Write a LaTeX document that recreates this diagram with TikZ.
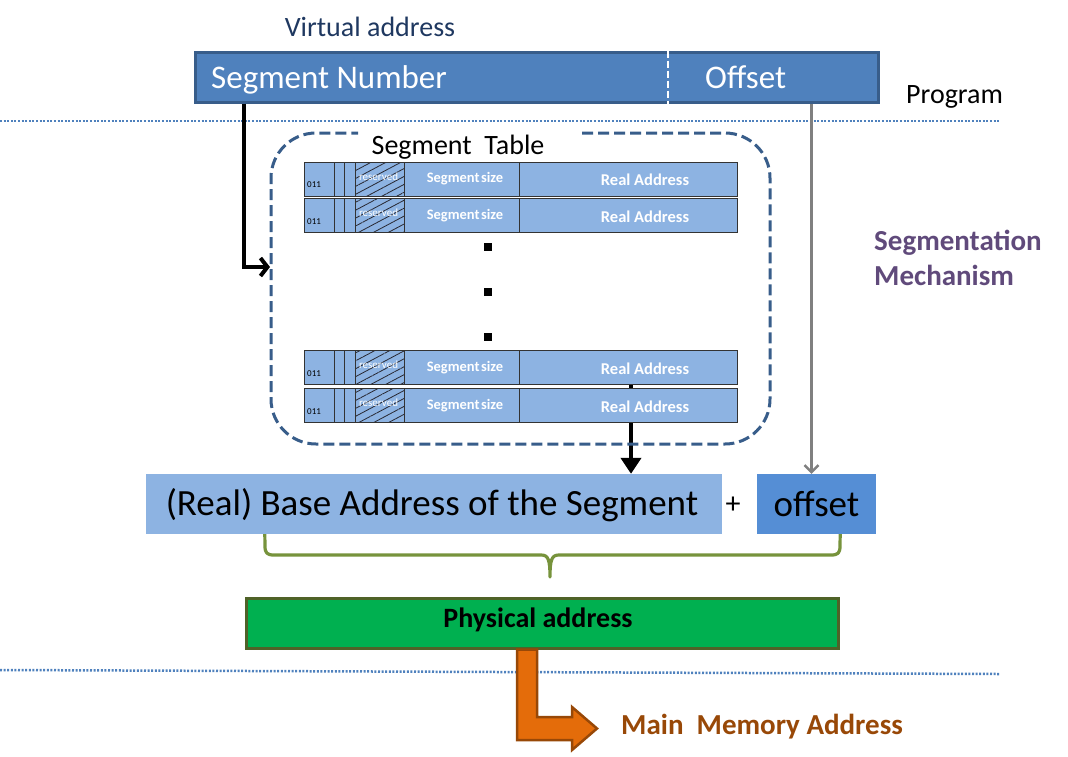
\documentclass[tikz,border=0pt]{standalone}
\usepackage{fontspec}
\setmainfont{Carlito}
\usetikzlibrary{arrows.meta,patterns.meta}
\pgfdeclarelayer{background}
\pgfsetlayers{background,main}
\definecolor{barblue}{RGB}{79,129,189}
\definecolor{barborder}{RGB}{56,93,138}
\definecolor{rowblue}{RGB}{141,179,226}
\definecolor{offblue}{RGB}{85,142,213}
\definecolor{navytxt}{RGB}{31,56,96}
\definecolor{purptxt}{RGB}{96,74,123}
\definecolor{browntxt}{RGB}{152,72,7}
\definecolor{bracegreen}{RGB}{119,147,60}
\definecolor{physgreen}{RGB}{0,176,80}
\definecolor{physborder}{RGB}{79,98,40}
\definecolor{arroworange}{RGB}{228,108,10}
\definecolor{dotblue}{RGB}{79,129,189}
\definecolor{hatchgray}{RGB}{40,40,50}
\newcommand\segtrow[2]{%
  \node[rowbox] (#1) at (520.5,{#2+17}) {};
  \pattern[pattern={Lines[angle=28,distance=7pt,line width=0.8pt]},pattern color=hatchgray] (355,#2) rectangle (404,{#2+34});
  \foreach \xx in {334,344,355,404,519} \draw[cellline] (\xx,#2) -- (\xx,{#2+34});
  \draw[cellline] (304,#2) rectangle (737,{#2+34});
  \node[idtxt] (#1-id) at (307,{#2+23}) {011};
  \node[restxt] (#1-res) at (378.5,{#2+14.5}) {reserved};
  \node[celltxt] (#1-size) at (465,{#2+17}) {Segment\hspace{0.1em}size};
  \node[celltxt,font=\fontsize{16.5}{18}\selectfont\bfseries] (#1-addr) at (645,{#2+18}) {Real Address};
}
\begin{document}
\begin{tikzpicture}[x=1pt,y=-1pt,
  rowbox/.style={fill=rowblue,draw=none,minimum width=433pt,minimum height=34pt,inner sep=0pt},
  cellline/.style={draw=black!80,line width=0.8pt},
  idtxt/.style={anchor=west,inner sep=0pt,font=\fontsize{9}{10}\selectfont},
  restxt/.style={text=white,inner sep=0pt,font=\fontsize{11}{12}\selectfont},
  celltxt/.style={text=white,inner sep=0pt,font=\fontsize{14.5}{16}\selectfont\bfseries},
  dotsq/.style={fill=black,minimum size=8pt,inner sep=0pt},
  sepline/.style={dotblue,line width=2.5pt,dash pattern=on 2pt off 1.6pt},
  bigtxt/.style={font=\fontsize{37}{44}\selectfont,inner sep=0pt},
  medtxt/.style={font=\fontsize{28}{35}\selectfont,inner sep=0pt},
  boldtxt/.style={font=\fontsize{29}{35}\selectfont\bfseries,inner sep=0pt}
]
\useasboundingbox (0,0) rectangle (1068,756);

% separator lines
\draw[sepline] (0,121) -- (1000,121);
\draw[sepline] (0,670) -- (1000,674);

% virtual address bar
\node[medtxt,text=navytxt] (valbl) at (370,27) {Virtual address};
\node[fill=barblue,draw=barborder,line width=3pt,minimum width=683pt,minimum height=50pt,inner sep=0pt] (va) at (536.5,77) {};
\node[font=\fontsize{33}{40}\selectfont,text=white,anchor=base west,inner sep=0pt] (segnum) at (211,88) {Segment Number};
\node[font=\fontsize{33}{40}\selectfont,text=white,anchor=base west,inner sep=0pt] (offtxt) at (705,88) {Offset};
\draw[white,line width=2pt,dash pattern=on 7pt off 3pt] ([xshift=474]va.north west) -- ([xshift=474]va.south west);
\node[medtxt,anchor=west] (prog) at (906,97) {Program};

% segment table frame
\draw[barborder,line width=3pt,dash pattern=on 11pt off 5pt,rounded corners=45pt]
  (582,133) -- (770,133) -- (770,444) -- (271,444) -- (271,133) -- (358,133);
\node[medtxt] (stlbl) at (458,147) {Segment\ \ Table};
\coordinate (tin) at (270,267);

% rows
\segtrow{r1}{162}
\segtrow{r2}{198.5}
\segtrow{r3}{350.5}
\segtrow{r4}{388.5}

\node[dotsq] (d1) at (488,247) {};
\node[dotsq] (d2) at (488,292) {};
\node[dotsq] (d3) at (488,337) {};

% result boxes
\node[fill=rowblue,minimum width=576pt,minimum height=60pt,inner sep=0pt] (base) at (434,504) {};
\node[bigtxt] (basetxt) at (432,505) {(Real) Base Address of the Segment};
\node[font=\fontsize{30}{36}\selectfont,inner sep=0pt] (plus) at (733,505) {+};
\node[fill=offblue,minimum width=119pt,minimum height=60pt,inner sep=0pt,bigtxt] (off) at (816.5,504) {offset};

% connectors
\draw[black,line width=4pt,-{Straight Barb[length=7pt,width=18pt]}]
  ([xshift=50]va.south west) |- (tin);
\draw[gray,line width=2.5pt,-{Straight Barb[length=7pt,width=14pt]}]
  ([xshift=-68]va.south east) -- ([xshift=-68]va.south east |- off.north);
\begin{pgfonlayer}{background}
\draw[black,line width=4.5pt,-{Triangle[length=16pt,width=20pt]}]
  ([xshift=110.5]r3.south) -- ([xshift=110.5]r3.south |- base.north);
\end{pgfonlayer}

% brace
\draw[bracegreen,line width=3.2pt,line join=round]
  ([xshift=119]base.south west) -- (265,546) .. controls (265,553) and (267,555) .. (274,555)
  -- (541,555) .. controls (548,555) and (550,559) .. (550,577)
  .. controls (550,559) and (552,555) .. (559,555) -- (831,555)
  .. controls (838,555) and (840,553) .. (840,546) -- ([xshift=-36]off.south east);

% physical address
\node[fill=physgreen,draw=physborder,line width=3pt,minimum width=592pt,minimum height=50pt,inner sep=0pt] (phys) at (542,623) {};
\node[font=\fontsize{28}{35}\selectfont\bfseries,inner sep=0pt] (phystxt) at (538,620) {Physical address};

% orange arrow
\draw[fill=arroworange,draw=browntxt,line width=2.5pt,line join=miter]
  ([xshift=-25]phys.south) -- (517,740) -- (572,740) -- (572,750) -- (597,728.5) -- (572,707) -- (572,717) -- (537,717) -- ([xshift=-5]phys.south) -- cycle;
\node[boldtxt,text=browntxt,anchor=west] (mma) at (621,727) {Main\ \ Memory Address};

% segmentation label
\node[boldtxt,text=purptxt,anchor=west,align=left] (segmech) at (874,258) {Segmentation\\Mechanism};
\end{tikzpicture}
\end{document}
